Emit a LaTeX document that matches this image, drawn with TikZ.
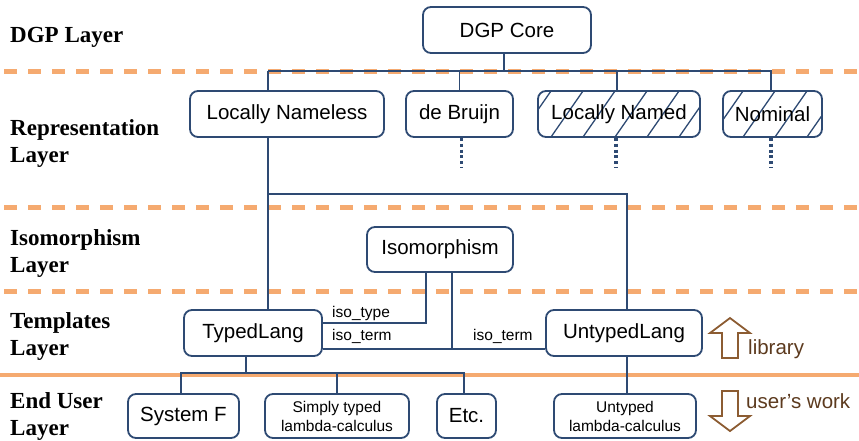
\documentclass[tikz,border=0pt]{standalone}
\usepackage{fontspec}
\setmainfont{Liberation Serif}
\setsansfont{Liberation Sans}
\usetikzlibrary{positioning,backgrounds}

\definecolor{boxblue}{RGB}{46,74,115}
\definecolor{layerorange}{RGB}{245,170,112}
\definecolor{arrbrown}{RGB}{140,92,50}
\definecolor{txtbrown}{RGB}{92,58,30}

\tikzset{
  box/.style={draw=boxblue,line width=1.8pt,rounded corners=8pt,fill=white,
    inner sep=0pt,minimum height=46pt,align=center,
    font=\sffamily\fontsize{20.5}{24}\selectfont},
  hatchbox/.style={box,fill=none},
  smallbox/.style={box,minimum height=44pt,font=\sffamily\fontsize{15.5}{19}\selectfont},
  wire/.style={draw=boxblue,line width=1.8pt},
  dots/.style={draw=boxblue,line width=3.5pt,dash pattern=on 3pt off 2.8pt},
  hatch/.style={draw=boxblue,line width=1.3pt},
  sep/.style={draw=layerorange,line width=5pt,dash pattern=on 13pt off 11pt},
  layer/.style={anchor=base west,inner sep=0pt,align=left,
    font=\bfseries\fontsize{23}{27}\selectfont},
  iso/.style={anchor=base west,inner sep=0pt,font=\sffamily\fontsize{15.5}{18}\selectfont},
  bigarrow/.style={draw=arrbrown,line width=1.8pt,line join=miter},
  side/.style={anchor=base west,inner sep=0pt,text=txtbrown,
    font=\sffamily\fontsize{20.5}{24}\selectfont}
}

\begin{document}
\begin{tikzpicture}[x=1pt,y=-1pt,node distance=100pt,on grid]
\useasboundingbox (0,0) rectangle (859,440);

% layer names (base = last line)
\node[layer] (l1) at (10,42) {DGP Layer};
\node[layer] (l2) at (10,162) {Representation\\Layer};
\node[layer] (l3) at (10,272) {Isomorphism\\Layer};
\node[layer] (l4) at (10,355) {Templates\\Layer};
\node[layer] (l5) at (10,435) {End User\\Layer};

% boxes
\node[box,minimum width=168pt] (core) at (507,30) {DGP Core};
\node[box,minimum width=194pt] (nameless) at (287,114) {Locally Nameless};
\node[box,minimum width=107pt] (bruijn) [right=172.5pt of nameless] {de Bruijn};
\node[hatchbox,minimum width=162pt] (named) [right=159.5pt of bruijn] {Locally Named};
\node[hatchbox,minimum width=99pt] (nominal) [right=153.5pt of named] {Nominal};
\node[box,minimum width=146pt,minimum height=45pt] (iso) at (440,249.5) {Isomorphism};
\node[box,minimum width=138pt] (typed) at (253,333) {TypedLang};
\node[box,minimum width=156pt] (untyped) [right=371pt of typed] {UntypedLang};
\node[smallbox,minimum width=111pt,font=\sffamily\fontsize{20.5}{24}\selectfont] (sysf) at (183.5,416) {System F};
\node[smallbox,minimum width=144pt] (stlc) [right=153.5pt of sysf] {Simply typed\\lambda-calculus};
\node[smallbox,minimum width=59pt,font=\sffamily\fontsize{20.5}{24}\selectfont] (etc) [right=129.5pt of stlc] {Etc.};
\node[smallbox,minimum width=142pt] (ulc) at (625,416) {Untyped\\lambda-calculus};

\begin{pgfonlayer}{background}
% layer borders
\draw[sep] (4,71) -- (859,71);
\draw[sep] (4,207) -- (859,207);
\draw[sep] (4,291) -- (859,291);
\draw[draw=layerorange,line width=4.5pt] (0,375) -- (859,375);

% hatching
\foreach \b in {named,nominal}{
  \begin{scope}
    \clip[rounded corners=8pt] (\b.south west) rectangle (\b.north east);
    \foreach \k in {0,...,10}
      \draw[hatch] (519+32*\k,137) -- (551+32*\k,91);
  \end{scope}
}

% connectors
\coordinate (busL) at (268,71);
\coordinate (midL) at (268,194);
\coordinate (lowbus) at (0,373);
\draw[wire] (core.south) ++(-3pt,0) coordinate (c0) -- (c0 |- busL);
\draw[wire] (busL) -| ([xshift=-1.5pt]nominal.north);
\draw[wire] (bruijn.north) -- (bruijn.north |- busL);
\draw[wire] (named.north) ++(-2pt,0) coordinate (n0) -- (n0 |- busL);
\draw[wire] (busL) -- (typed.north -| busL);
\draw[wire] (midL) -| ([xshift=3pt]untyped.north);
\draw[wire] ([xshift=-14pt]iso.south) |- ([yshift=10pt]typed.east);
\coordinate (tl) at ([yshift=-16pt]typed.east);
\draw[wire] ([xshift=12pt]iso.south) |- (tl);
\draw[wire] (tl) -- ([yshift=-16pt]untyped.west);
\draw[wire] (typed.south) ++(-7pt,0) coordinate (td) -- (td |- lowbus);
\draw[wire] ([xshift=-2.5pt]sysf.north) |- ([xshift=-2.5pt]etc.north |- lowbus)
  -- ([xshift=-2.5pt]etc.north);
\draw[wire] (stlc.north) -- (stlc.north |- lowbus);
\draw[wire] ([xshift=3pt]untyped.south) -- ([xshift=3pt]untyped.south |- ulc.north);
\end{pgfonlayer}

% unfinished representations
\draw[dots] ([xshift=2pt]bruijn.south) -- ++(0,30);
\draw[dots] ([xshift=-3pt]named.south) -- ++(0,30);
\draw[dots] ([xshift=-1.5pt]nominal.south) -- ++(0,30);

% iso labels
\node[iso] (itype) at (332,317) {iso\_type};
\node[iso] (iterm) at (332,340) {iso\_term};
\node[iso] (iterm2) at (473,340) {iso\_term};

% library / user's work
\draw[bigarrow] (722,358) -- (722,333) -- (710,333) -- (730,318) -- (750,333)
  -- (738,333) -- (738,358) -- cycle;
\draw[bigarrow] (722,391) -- (722,416) -- (710,416) -- (730,431) -- (750,416)
  -- (738,416) -- (738,391) -- cycle;
\node[side] (lib) at (748,354) {library};
\node[side] (work) at (746,408) {user’s work};
\end{tikzpicture}
\end{document}
